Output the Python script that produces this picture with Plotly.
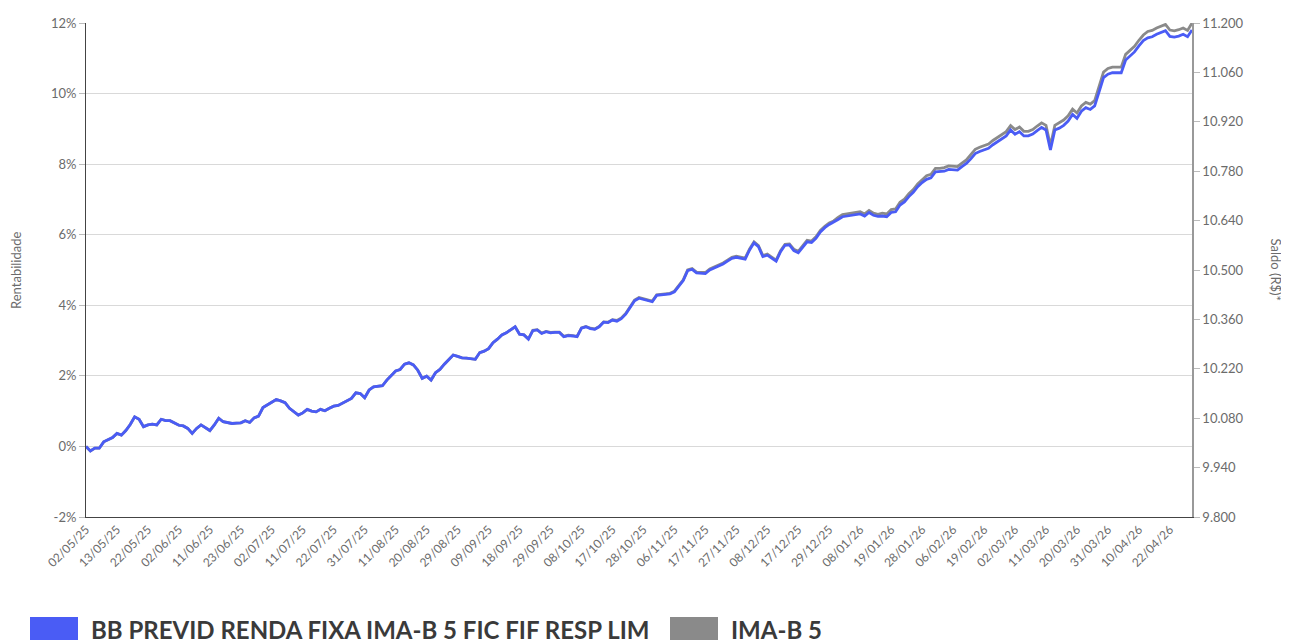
import pandas as pd
import plotly.graph_objects as go

# ---------------- data ----------------
START = "2025-05-02"
END = "2026-04-29"
HOLIDAYS = ["2025-06-19", "2025-11-20", "2025-12-25", "2026-01-01",
            "2026-02-16", "2026-02-17", "2026-04-03", "2026-04-21"]

FUND_NAME = "BB PREVID RENDA FIXA IMA-B 5 FIC FIF RESP LIM"
BENCH_NAME = "IMA-B 5"

fund = [
    0.00, -0.13, -0.05, -0.05, 0.13, 0.18, 0.25, 0.37, 0.32, 0.45,
    0.62, 0.84, 0.77, 0.56, 0.61, 0.63, 0.61, 0.77, 0.73, 0.73,
    0.66, 0.60, 0.58, 0.51, 0.37, 0.51, 0.61, 0.54, 0.45, 0.61,
    0.80, 0.70, 0.67, 0.65, 0.66, 0.67, 0.73, 0.68, 0.81, 0.86,
    1.10, 1.17, 1.25, 1.33, 1.29, 1.24, 1.08, 0.98, 0.89, 0.95,
    1.05, 1.00, 0.98, 1.05, 1.01, 1.08, 1.14, 1.16, 1.23, 1.31,
    1.36, 1.52, 1.50, 1.38, 1.60, 1.69, 1.70, 1.72, 1.88, 2.02,
    2.14, 2.18, 2.33, 2.37, 2.31, 2.16, 1.93, 1.99, 1.88, 2.09,
    2.18, 2.33, 2.45, 2.59, 2.55, 2.51, 2.50, 2.49, 2.47, 2.66,
    2.70, 2.77, 2.94, 3.04, 3.16, 3.22, 3.30, 3.39, 3.18, 3.16,
    3.04, 3.28, 3.30, 3.20, 3.25, 3.22, 3.23, 3.23, 3.11, 3.14,
    3.13, 3.11, 3.35, 3.39, 3.34, 3.32, 3.39, 3.52, 3.51, 3.58,
    3.55, 3.62, 3.75, 3.94, 4.13, 4.20, 4.17, 4.13, 4.10, 4.28,
    4.29, 4.31, 4.32, 4.38, 4.55, 4.70, 4.98, 5.02, 4.92, 4.91,
    4.90, 5.00, 5.05, 5.11, 5.17, 5.25, 5.33, 5.36, 5.33, 5.31,
    5.57, 5.77, 5.66, 5.38, 5.42, 5.33, 5.25, 5.52, 5.70, 5.71,
    5.55, 5.49, 5.66, 5.80, 5.78, 5.90, 6.08, 6.20, 6.29, 6.35,
    6.43, 6.51, 6.53, 6.55, 6.56, 6.59, 6.53, 6.63, 6.55, 6.52,
    6.53, 6.51, 6.63, 6.65, 6.84, 6.93, 7.08, 7.20, 7.36, 7.48,
    7.57, 7.61, 7.78, 7.78, 7.80, 7.85, 7.83, 7.83, 7.93, 8.02,
    8.15, 8.30, 8.36, 8.40, 8.45, 8.55, 8.63, 8.70, 8.80, 8.97,
    8.85, 8.92, 8.80, 8.80, 8.85, 8.95, 9.04, 8.97, 8.40, 8.97,
    9.02, 9.10, 9.22, 9.41, 9.30, 9.50, 9.60, 9.55, 9.65, 10.05,
    10.45, 10.55, 10.59, 10.59, 10.59, 10.95, 11.07, 11.18, 11.35, 11.50,
    11.58, 11.61, 11.68, 11.73, 11.78, 11.62, 11.60, 11.63, 11.68, 11.61,
    11.80,
]

bench = [
    0.00, -0.13, -0.05, -0.05, 0.13, 0.18, 0.25, 0.37, 0.32, 0.45,
    0.62, 0.84, 0.77, 0.56, 0.61, 0.63, 0.61, 0.77, 0.73, 0.73,
    0.66, 0.60, 0.58, 0.51, 0.37, 0.51, 0.61, 0.54, 0.45, 0.61,
    0.80, 0.70, 0.67, 0.65, 0.66, 0.67, 0.73, 0.68, 0.81, 0.86,
    1.10, 1.17, 1.25, 1.33, 1.29, 1.24, 1.08, 0.98, 0.89, 0.95,
    1.05, 1.00, 0.98, 1.05, 1.01, 1.08, 1.14, 1.16, 1.23, 1.31,
    1.36, 1.52, 1.50, 1.38, 1.60, 1.69, 1.70, 1.72, 1.88, 2.02,
    2.14, 2.18, 2.33, 2.37, 2.31, 2.16, 1.93, 1.99, 1.88, 2.09,
    2.18, 2.33, 2.45, 2.59, 2.55, 2.51, 2.50, 2.49, 2.47, 2.66,
    2.70, 2.77, 2.94, 3.04, 3.16, 3.22, 3.30, 3.39, 3.18, 3.16,
    3.05, 3.29, 3.31, 3.21, 3.26, 3.23, 3.24, 3.24, 3.12, 3.15,
    3.14, 3.12, 3.36, 3.40, 3.35, 3.33, 3.40, 3.53, 3.52, 3.59,
    3.57, 3.64, 3.77, 3.96, 4.15, 4.22, 4.19, 4.15, 4.12, 4.30,
    4.31, 4.33, 4.34, 4.40, 4.57, 4.72, 5.00, 5.04, 4.94, 4.93,
    4.93, 5.03, 5.08, 5.14, 5.20, 5.28, 5.36, 5.39, 5.36, 5.34,
    5.60, 5.80, 5.69, 5.41, 5.45, 5.36, 5.28, 5.55, 5.73, 5.74,
    5.59, 5.53, 5.70, 5.84, 5.82, 5.94, 6.12, 6.24, 6.33, 6.39,
    6.49, 6.57, 6.59, 6.61, 6.62, 6.65, 6.59, 6.69, 6.61, 6.58,
    6.61, 6.59, 6.71, 6.73, 6.92, 7.01, 7.16, 7.28, 7.44, 7.56,
    7.67, 7.71, 7.88, 7.88, 7.90, 7.95, 7.93, 7.93, 8.03, 8.12,
    8.27, 8.42, 8.48, 8.52, 8.57, 8.67, 8.75, 8.82, 8.92, 9.09,
    8.98, 9.05, 8.93, 8.93, 8.98, 9.08, 9.17, 9.10, 8.53, 9.10,
    9.17, 9.25, 9.37, 9.56, 9.45, 9.65, 9.75, 9.70, 9.80, 10.20,
    10.61, 10.71, 10.75, 10.75, 10.75, 11.11, 11.23, 11.34, 11.51, 11.66,
    11.76, 11.79, 11.86, 11.91, 11.96, 11.80, 11.78, 11.81, 11.86, 11.79,
    12.00,
]

INITIAL = 10000
Y_TICKS = [-2, 0, 2, 4, 6, 8, 10, 12]
Y2_TICKS = [9800, 9940, 10080, 10220, 10360, 10500, 10640, 10780, 10920, 11060, 11200]
Y2_LABELS = ["9.800", "9.940", "10.080", "10.220", "10.360", "10.500",
             "10.640", "10.780", "10.920", "11.060", "11.200"]
TICK_EVERY = 7

# ---------------- build ----------------
dates = pd.bdate_range(START, END, freq="C", holidays=HOLIDAYS)
labels = [d.strftime("%d/%m/%y") for d in dates][: len(fund)]
tick_vals = labels[::TICK_EVERY]

BLUE = "#4a5cf5"
GREY = "#8a8a8a"
FONT = "Lato"
TICK_COLOR = "#6b6b6b"

fig = go.Figure()
fig.add_trace(go.Scatter(x=labels, y=bench, mode="lines", name=BENCH_NAME,
                         line=dict(color=GREY, width=2.8), showlegend=False))
fig.add_trace(go.Scatter(x=labels, y=fund, mode="lines", name=FUND_NAME,
                         line=dict(color=BLUE, width=2.8), showlegend=False))
# saldo on the right axis (same curve expressed in R$)
fig.add_trace(go.Scatter(x=labels, y=[INITIAL * (1 + v / 100) for v in fund],
                         yaxis="y2", mode="lines", line=dict(color="rgba(0,0,0,0)"),
                         hoverinfo="skip", showlegend=False))

# page body has an 8px default margin, so the figure is offset by (8, 8)
fig.update_layout(
    width=1289, height=640,
    margin=dict(l=78, r=105, t=15, b=131),
    paper_bgcolor="white", plot_bgcolor="white",
    font=dict(family=FONT, color=TICK_COLOR, size=13),
    xaxis=dict(type="category", range=[0, len(fund) - 1], automargin=False,
               tickmode="array", tickvals=tick_vals, ticktext=tick_vals,
               tickangle=-45, tickfont=dict(size=12, color=TICK_COLOR),
               showgrid=False, showline=True, linecolor="#444", linewidth=1,
               ticks="", zeroline=False),
    yaxis=dict(range=[-2, 12], tickvals=Y_TICKS, automargin=False,
               ticktext=[f"{v}%" for v in Y_TICKS],
               showgrid=True, gridcolor="#d9d9d9", gridwidth=1,
               zeroline=False, showline=True, linecolor="#444", linewidth=1,
               ticks="outside", ticklen=6, tickcolor="#bbbbbb",
               tickfont=dict(size=13, color=TICK_COLOR)),
    yaxis2=dict(overlaying="y", side="right", range=[9800, 11200], automargin=False,
                tickvals=Y2_TICKS, ticktext=Y2_LABELS,
                showgrid=False, zeroline=False, showline=True,
                linecolor="#999", linewidth=1.5,
                ticks="outside", ticklen=6, tickcolor="#bbbbbb",
                tickfont=dict(size=13, color=TICK_COLOR)),
    showlegend=False,
)

# axis titles
fig.add_annotation(text="Rentabilidade", xref="paper", yref="paper",
                   x=-0.0633, y=0.5, xanchor="center", yanchor="middle",
                   textangle=-90, showarrow=False,
                   font=dict(size=13, color=TICK_COLOR, family=FONT))
fig.add_annotation(text="Saldo (R$)*", xref="paper", yref="paper",
                   x=1.0755, y=0.5, xanchor="center", yanchor="middle",
                   textangle=90, showarrow=False,
                   font=dict(size=13, color=TICK_COLOR, family=FONT))

# custom legend (square swatches); positions relative to the plot area
def px_x(px):
    return (px - 86) / 1106

def px_y(py):
    return (517 - py) / 494

for x0, x1, col, name, tx in [(30, 78, BLUE, FUND_NAME, 89),
                              (670, 718, GREY, BENCH_NAME, 729)]:
    fig.add_shape(type="rect", xref="paper", yref="paper",
                  x0=px_x(x0), x1=px_x(x1), y0=px_y(648), y1=px_y(617),
                  fillcolor=col, line=dict(width=0))
    fig.add_annotation(text=f"<b>{name}</b>", xref="paper", yref="paper",
                       x=px_x(tx), y=px_y(613), xanchor="left", yanchor="top",
                       showarrow=False,
                       font=dict(size=24, color="#3a3a3a", family=FONT))

fig.write_html("out.html")
